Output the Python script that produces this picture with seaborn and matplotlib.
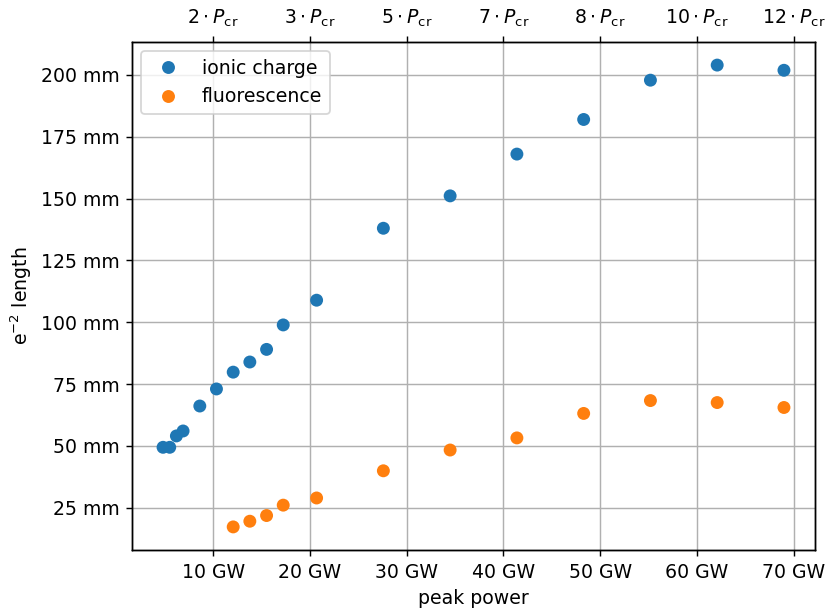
import matplotlib
matplotlib.use("Agg")
import matplotlib.pyplot as plt
from matplotlib.ticker import FuncFormatter
import numpy as np
import pandas as pd
import seaborn as sns

# peak power (GW) and e^-2 length (mm) for both diagnostics
ionic_power = [4.83, 5.52, 6.21, 6.90, 8.63, 10.35, 12.08, 13.80, 15.53, 17.25,
               20.70, 27.60, 34.50, 41.40, 48.30, 55.20, 62.10, 69.00]
ionic_length = [49.4, 49.4, 54.0, 56.0, 66.1, 73.0, 79.8, 83.9, 89.0, 98.9,
                108.9, 138.0, 151.1, 168.0, 182.0, 197.9, 204.0, 201.9]

fluo_power = [12.08, 13.80, 15.53, 17.25, 20.70, 27.60, 34.50, 41.40,
              48.30, 55.20, 62.10, 69.00]
fluo_length = [17.2, 19.5, 21.8, 26.0, 28.9, 39.9, 48.3, 53.2,
               63.1, 68.3, 67.5, 65.5]

series_labels = ["ionic charge", "fluorescence"]
critical_power = 6.0  # GW
power_ticks = [10, 20, 30, 40, 50, 60, 70]
length_ticks = [25, 50, 75, 100, 125, 150, 175, 200]

df = pd.concat([
    pd.DataFrame({"power": ionic_power, "length": ionic_length, "signal": series_labels[0]}),
    pd.DataFrame({"power": fluo_power, "length": fluo_length, "signal": series_labels[1]}),
], ignore_index=True)

plt.rcParams["font.size"] = 10.5

dpi = 129
fig = plt.figure(figsize=(827 / dpi, 611 / dpi), dpi=dpi)
ax = fig.add_axes([132 / 827, 1 - 550 / 611, (815 - 132) / 827, (550 - 42) / 611])

sns.scatterplot(data=df, x="power", y="length", hue="signal",
                palette=["#1f77b4", "#ff7f0e"], s=52, linewidth=0,
                ax=ax, zorder=3)

ax.set_axisbelow(True)
ax.grid(True, color="#b0b0b0", linewidth=0.8)
ax.set_xticks(power_ticks)
ax.set_yticks(length_ticks)
ax.xaxis.set_major_formatter(FuncFormatter(lambda v, p: f"{v:.0f} GW"))
ax.yaxis.set_major_formatter(FuncFormatter(lambda v, p: f"{v:.0f} mm"))
ax.set_xlabel("peak power")
ax.set_ylabel("e$^{-2}$ length")
ax.legend(title=None, loc="upper left")

# secondary axis: same positions expressed in units of the critical power
top = ax.twiny()
top.set_xlim(ax.get_xlim())
top.set_xticks(power_ticks)
top.set_xticklabels([rf"${round(t / critical_power)}\cdot P_\mathrm{{cr}}$"
                     for t in power_ticks])

fig.savefig("out.png", dpi=dpi)
